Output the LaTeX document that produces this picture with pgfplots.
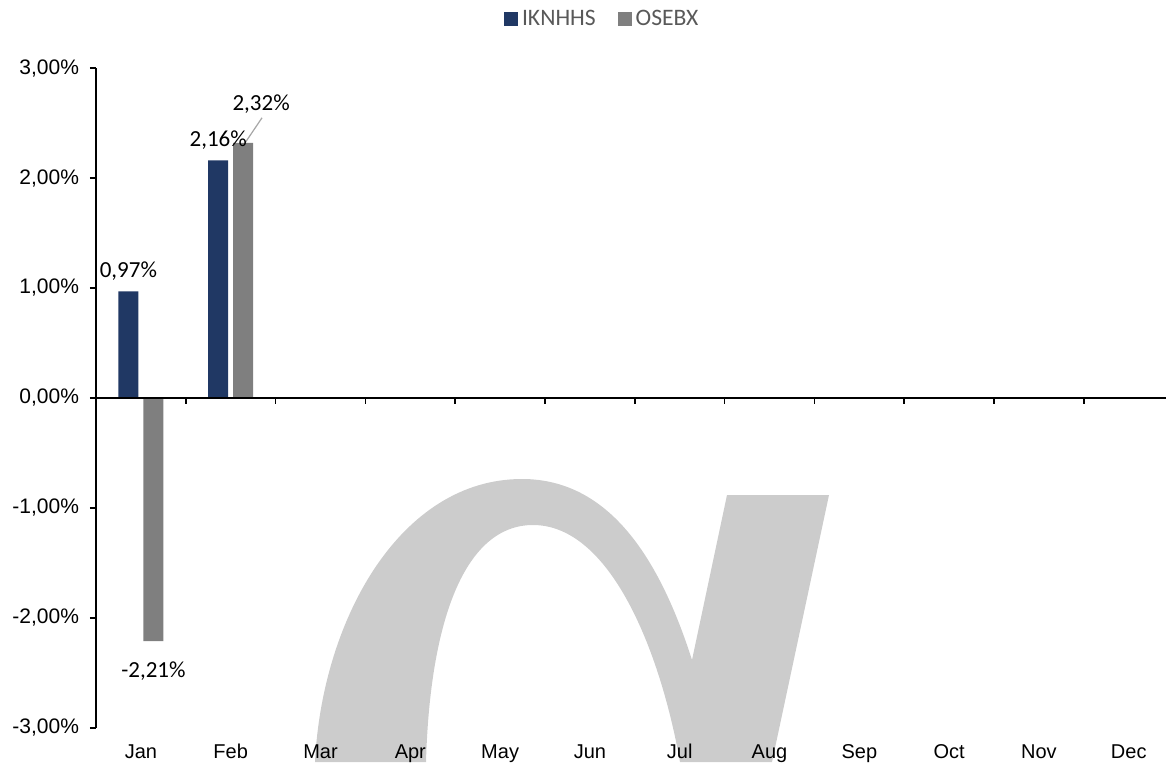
\documentclass[border=0pt]{standalone}
\usepackage{fontspec}
\setmainfont{Liberation Sans}
\newfontfamily\calibri{Carlito}
\usepackage{pgfplots}
\pgfplotsset{compat=1.18}
\definecolor{navy}{RGB}{32,56,100}
\definecolor{bargray}{RGB}{127,127,127}
\definecolor{wm}{RGB}{204,204,204}
\definecolor{legtext}{RGB}{89,89,89}
\definecolor{leader}{RGB}{166,166,166}
\begin{document}
\begin{tikzpicture}
% background watermark (decoration)
\begin{scope}[xshift=-48pt,yshift=364pt,x=0.5pt,y=-0.5pt]
\fill[wm] (315,762) .. controls (322,620) and (400,479) .. (522,479)
  .. controls (610,479) and (660,560) .. (692,660)
  -- (727,495) -- (829,495) -- (772,762) -- (680,762)
  .. controls (660,650) and (610,525) .. (533,525)
  .. controls (465,525) and (430,620) .. (426,762) -- cycle;
\end{scope}
\begin{axis}[
  at={(0,0)}, anchor=south west,
  scale only axis, width=535pt, height=330pt,
  xmin=-0.5, xmax=11.415, ymin=-3, ymax=3,
  axis lines=left,
  axis line style={-, line width=0.8pt, black},
  x axis line style={draw=none},
  ytick={-3,-2,-1,0,1,2,3},
  yticklabels={{-3,00\%},{-2,00\%},{-1,00\%},{0,00\%},{1,00\%},{2,00\%},{3,00\%}},
  xtick={0,1,2,3,4,5,6,7,8,9,10,11},
  xticklabels={Jan,Feb,Mar,Apr,May,Jun,Jul,Aug,Sep,Oct,Nov,Dec},
  xtick style={draw=none},
  ytick style={draw=black, line width=0.8pt},
  tick align=outside, major tick length=3pt,
  yticklabel style={font=\fontsize{10.5}{12}\selectfont, xshift=-2pt},
  xticklabel style={font=\fontsize{10}{12}\selectfont, anchor=base, yshift=-12pt},
  ybar=2.5pt, bar width=10pt,
  legend style={at={(0.474,1.074)}, anchor=center, draw=none, fill=none,
    font=\calibri\fontsize{11.8}{13}\selectfont\color{legtext},
    /tikz/every even column/.append style={column sep=9pt}},
  legend columns=2,
  legend image code/.code={\fill[#1] (0pt,-3.5pt) rectangle (7pt,3.5pt);},
  clip=false,
]
\addplot[fill=navy, draw=none,
  nodes near coords, point meta=explicit symbolic,
  every node near coord/.append style={font=\calibri\fontsize{11.5}{13}\selectfont, anchor=base, yshift=7pt, inner sep=0pt}]
  coordinates {(0,0.97)[0,97\%] (1,2.16)[2,16\%]};
\addplot[fill=bargray, draw=none,
  nodes near coords, point meta=explicit symbolic,
  every node near coord/.append style={font=\calibri\fontsize{11.5}{13}\selectfont, anchor=base, yshift=-18pt, inner sep=0pt}]
  coordinates {(0,-2.21)[-2,21\%] (1,2.32)[]};
\legend{IKNHHS, OSEBX}
% zero line and category separators
\draw[line width=0.8pt, black] (axis cs:-0.5,0) -- (axis cs:11.415,0);
\pgfplotsinvokeforeach{0.5,1.5,2.5,3.5,4.5,5.5,6.5,7.5,8.5,9.5,10.5}{
  \draw[line width=0.8pt, black] (axis cs:#1,0) -- ([yshift=-3pt]axis cs:#1,0);
}
\draw[leader, line width=0.6pt] ([xshift=7.2pt]axis cs:1,2.32) -- ([xshift=15.65pt,yshift=12.5pt]axis cs:1,2.32);
\node[font=\calibri\fontsize{11.5}{13}\selectfont, anchor=base, inner sep=0pt] at ([xshift=15.2pt,yshift=16pt]axis cs:1,2.32) {2,32\%};
\end{axis}
\pgfresetboundingbox
\useasboundingbox (-48pt,-17pt) rectangle (535pt,364pt);
\end{tikzpicture}
\end{document}
